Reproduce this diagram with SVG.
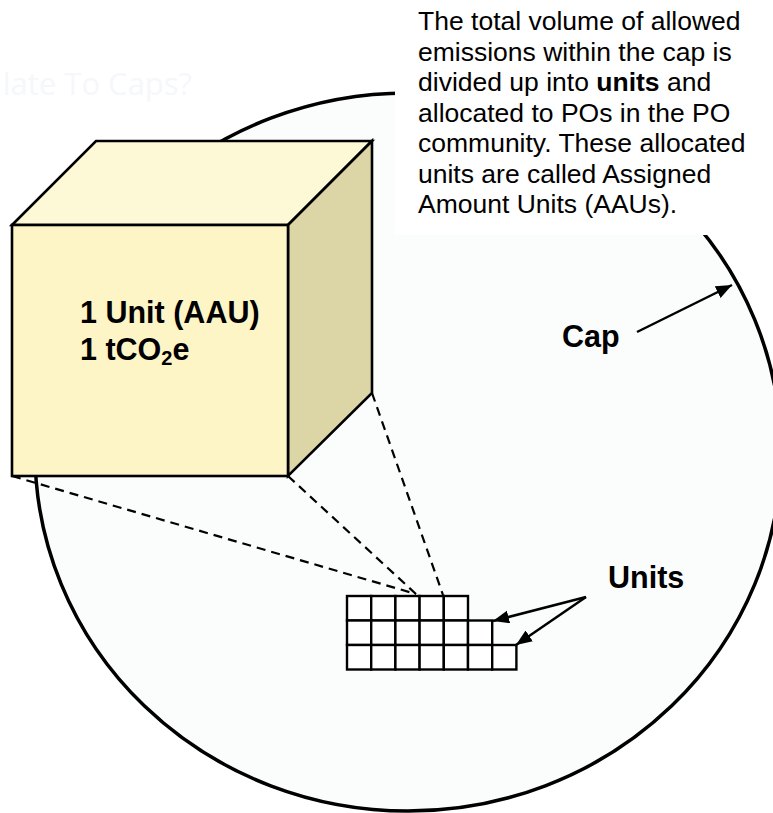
<svg xmlns="http://www.w3.org/2000/svg" width="773" height="813" viewBox="0 0 773 813">
  <style>
    .body { font-family: "Liberation Sans", Arial, sans-serif; fill: #000; }
    .desc { font-size: 26.5px; }
    .lbl { font-size: 30.5px; font-weight: bold; }
    .cube-edge { stroke: #000; stroke-width: 2.6; stroke-linejoin: miter; }
    .dash { fill: none; stroke: #000; stroke-width: 2.2; stroke-dasharray: 9 6; }
    .arrow { fill: none; stroke: #000; stroke-width: 2.5; }
    .cell { fill: #FFFFFF; stroke: #000; stroke-width: 2.4; }
  </style>
  <defs>
    <marker id="head" markerUnits="userSpaceOnUse" markerWidth="18" markerHeight="14" refX="16" refY="6.5" orient="auto">
      <path d="M0,0 L16,6.5 L0,13 Z" fill="#000"/>
    </marker>
  </defs>
  <rect x="0" y="0" width="773" height="813" fill="#FFFFFF"/>

  <text id="faded-title" x="192" y="95" text-anchor="end" font-family="'Open Sans', 'Liberation Sans', sans-serif" font-size="31" fill="#F5F7FA">late To Caps?</text>

  <g id="cap-ellipse">
    <ellipse cx="408" cy="452" rx="373" ry="359" fill="#FBFDFD" stroke="#000" stroke-width="3.5"/>
  </g>

  <g id="cube">
    <polygon points="12,225 96,141 372,141 288,225" fill="#FDF8D6" class="cube-edge"/>
    <polygon points="288,225 372,141 372,393 288,476" fill="#DCD5A5" class="cube-edge"/>
    <rect x="12" y="225" width="276" height="251" fill="#FDF5C6" class="cube-edge"/>
    <text class="body lbl" x="80" y="323" font-size="31">1 Unit (AAU)</text>
    <text class="body lbl" x="80" y="360" font-size="31">1 tCO<tspan font-size="20" dy="5">2</tspan><tspan dy="-5">e</tspan></text>
  </g>

  <g id="connectors">
    <line class="dash" x1="12" y1="476" x2="416" y2="594"/>
    <line class="dash" x1="288" y1="476" x2="416" y2="594"/>
    <line class="dash" x1="372" y1="393" x2="443" y2="595"/>
    <line class="arrow" x1="637" y1="332" x2="732" y2="285" marker-end="url(#head)"/>
    <line class="arrow" x1="586" y1="597" x2="493" y2="621" marker-end="url(#head)"/>
    <line class="arrow" x1="586" y1="597" x2="516" y2="645" marker-end="url(#head)"/>
  </g>

  <g id="unit-grid">
    <rect class="cell" x="347" y="596" width="24.2" height="24.5"/>
    <rect class="cell" x="371.2" y="596" width="24.2" height="24.5"/>
    <rect class="cell" x="395.4" y="596" width="24.2" height="24.5"/>
    <rect class="cell" x="419.6" y="596" width="24.2" height="24.5"/>
    <rect class="cell" x="443.8" y="596" width="24.2" height="24.5"/>
    <rect class="cell" x="347" y="620.5" width="24.2" height="24.5"/>
    <rect class="cell" x="371.2" y="620.5" width="24.2" height="24.5"/>
    <rect class="cell" x="395.4" y="620.5" width="24.2" height="24.5"/>
    <rect class="cell" x="419.6" y="620.5" width="24.2" height="24.5"/>
    <rect class="cell" x="443.8" y="620.5" width="24.2" height="24.5"/>
    <rect class="cell" x="468" y="620.5" width="24.2" height="24.5"/>
    <rect class="cell" x="347" y="645" width="24.2" height="24.5"/>
    <rect class="cell" x="371.2" y="645" width="24.2" height="24.5"/>
    <rect class="cell" x="395.4" y="645" width="24.2" height="24.5"/>
    <rect class="cell" x="419.6" y="645" width="24.2" height="24.5"/>
    <rect class="cell" x="443.8" y="645" width="24.2" height="24.5"/>
    <rect class="cell" x="468" y="645" width="24.2" height="24.5"/>
    <rect class="cell" x="492.2" y="645" width="24.2" height="24.5"/>
  </g>

  <g id="cap-label">
    <text class="body lbl" x="562" y="347">Cap</text>
  </g>

  <g id="units-label">
    <text class="body lbl" x="608" y="588">Units</text>
  </g>

  <g id="description">
    <rect x="395" y="0" width="378" height="235" fill="#FFFFFF"/>
    <text class="body desc" x="418" y="30">The total volume of allowed</text>
    <text class="body desc" x="418" y="60.5">emissions within the cap is</text>
    <text class="body desc" x="418" y="91">divided up into <tspan font-weight="bold">units</tspan> and</text>
    <text class="body desc" x="418" y="121.5">allocated to POs in the PO</text>
    <text class="body desc" x="418" y="152">community. These allocated</text>
    <text class="body desc" x="418" y="182.5">units are called Assigned</text>
    <text class="body desc" x="418" y="213">Amount Units (AAUs).</text>
  </g>
</svg>
